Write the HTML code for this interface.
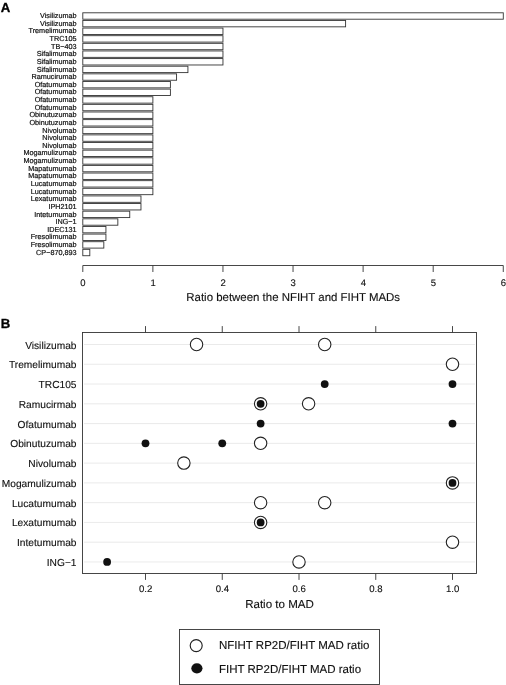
<!DOCTYPE html><html><head><meta charset="utf-8"><title>Figure</title>
<style>html,body{margin:0;padding:0;background:#fff}svg{display:block;will-change:transform}text{font-family:"Liberation Sans",Arial,sans-serif;fill:#111;stroke:#111;stroke-width:0.12px;text-rendering:geometricPrecision}.s text{stroke-width:0.2px}text.b{fill:#000;stroke:#000;stroke-width:0.3px}</style></head><body>
<svg width="506" height="685" viewBox="0 0 506 685">
<rect width="506" height="685" fill="#fff"/>
<text x="0.8" y="12.2" font-size="13.2" font-weight="bold" class="b">A</text>
<g font-size="7.25" text-anchor="end" class="s">
<text x="76.6" y="18.15">Visilizumab</text>
<text x="76.6" y="25.78">Visilizumab</text>
<text x="76.6" y="33.41">Tremelimumab</text>
<text x="76.6" y="41.04">TRC105</text>
<text x="76.6" y="48.67">TB−403</text>
<text x="76.6" y="56.30">Sifalimumab</text>
<text x="76.6" y="63.93">Sifalimumab</text>
<text x="76.6" y="71.56">Sifalimumab</text>
<text x="76.6" y="79.19">Ramucirumab</text>
<text x="76.6" y="86.82">Ofatumumab</text>
<text x="76.6" y="94.45">Ofatumumab</text>
<text x="76.6" y="102.08">Ofatumumab</text>
<text x="76.6" y="109.71">Ofatumumab</text>
<text x="76.6" y="117.34">Obinutuzumab</text>
<text x="76.6" y="124.97">Obinutuzumab</text>
<text x="76.6" y="132.60">Nivolumab</text>
<text x="76.6" y="140.23">Nivolumab</text>
<text x="76.6" y="147.86">Nivolumab</text>
<text x="76.6" y="155.49">Mogamulizumab</text>
<text x="76.6" y="163.12">Mogamulizumab</text>
<text x="76.6" y="170.75">Mapatumumab</text>
<text x="76.6" y="178.38">Mapatumumab</text>
<text x="76.6" y="186.01">Lucatumumab</text>
<text x="76.6" y="193.64">Lucatumumab</text>
<text x="76.6" y="201.27">Lexatumumab</text>
<text x="76.6" y="208.90">IPH2101</text>
<text x="76.6" y="216.53">Intetumumab</text>
<text x="76.6" y="224.16">ING−1</text>
<text x="76.6" y="231.79">IDEC131</text>
<text x="76.6" y="239.42">Fresolimumab</text>
<text x="76.6" y="247.05">Fresolimumab</text>
<text x="76.6" y="254.68">CP−870,893</text>
</g>
<g fill="#fff" stroke="#333" stroke-width="0.9">
<rect x="82.8" y="12.80" width="420.48" height="6.4"/>
<rect x="82.8" y="20.43" width="262.80" height="6.4"/>
<rect x="82.8" y="28.06" width="140.16" height="6.4"/>
<rect x="82.8" y="35.69" width="140.16" height="6.4"/>
<rect x="82.8" y="43.32" width="140.16" height="6.4"/>
<rect x="82.8" y="50.95" width="140.16" height="6.4"/>
<rect x="82.8" y="58.58" width="140.16" height="6.4"/>
<rect x="82.8" y="66.21" width="105.12" height="6.4"/>
<rect x="82.8" y="73.84" width="93.77" height="6.4"/>
<rect x="82.8" y="81.47" width="87.60" height="6.4"/>
<rect x="82.8" y="89.10" width="87.60" height="6.4"/>
<rect x="82.8" y="96.73" width="70.08" height="6.4"/>
<rect x="82.8" y="104.36" width="70.08" height="6.4"/>
<rect x="82.8" y="111.99" width="70.08" height="6.4"/>
<rect x="82.8" y="119.62" width="70.08" height="6.4"/>
<rect x="82.8" y="127.25" width="70.08" height="6.4"/>
<rect x="82.8" y="134.88" width="70.08" height="6.4"/>
<rect x="82.8" y="142.51" width="70.08" height="6.4"/>
<rect x="82.8" y="150.14" width="70.08" height="6.4"/>
<rect x="82.8" y="157.77" width="70.08" height="6.4"/>
<rect x="82.8" y="165.40" width="70.08" height="6.4"/>
<rect x="82.8" y="173.03" width="70.08" height="6.4"/>
<rect x="82.8" y="180.66" width="70.08" height="6.4"/>
<rect x="82.8" y="188.29" width="70.08" height="6.4"/>
<rect x="82.8" y="195.92" width="58.17" height="6.4"/>
<rect x="82.8" y="203.55" width="58.17" height="6.4"/>
<rect x="82.8" y="211.18" width="46.95" height="6.4"/>
<rect x="82.8" y="218.81" width="35.04" height="6.4"/>
<rect x="82.8" y="226.44" width="23.13" height="6.4"/>
<rect x="82.8" y="234.07" width="23.13" height="6.4"/>
<rect x="82.8" y="241.70" width="21.02" height="6.4"/>
<rect x="82.8" y="249.33" width="7.01" height="6.4"/>
</g>
<g stroke="#333" stroke-width="0.9" fill="none"><path d="M82.8 265.5H503.28000000000003
M82.80 265.5v6.5
M152.88 265.5v6.5
M222.96 265.5v6.5
M293.04 265.5v6.5
M363.12 265.5v6.5
M433.20 265.5v6.5
M503.28 265.5v6.5
"/></g>
<g font-size="9.5" text-anchor="middle">
<text x="83.00" y="285.5">0</text>
<text x="153.08" y="285.5">1</text>
<text x="223.16" y="285.5">2</text>
<text x="293.24" y="285.5">3</text>
<text x="363.32" y="285.5">4</text>
<text x="433.40" y="285.5">5</text>
<text x="503.48" y="285.5">6</text>
</g>
<text x="293.2" y="300.8" font-size="11.44" text-anchor="middle">Ratio between the NFIHT and FIHT MADs</text>
<text x="0.8" y="328.1" font-size="13.2" font-weight="bold" class="b">B</text>
<g stroke="#e4e4e4" stroke-width="0.8">
<line x1="84.0" x2="475.0" y1="344.50" y2="344.50"/>
<line x1="84.0" x2="475.0" y1="364.27" y2="364.27"/>
<line x1="84.0" x2="475.0" y1="384.04" y2="384.04"/>
<line x1="84.0" x2="475.0" y1="403.81" y2="403.81"/>
<line x1="84.0" x2="475.0" y1="423.58" y2="423.58"/>
<line x1="84.0" x2="475.0" y1="443.35" y2="443.35"/>
<line x1="84.0" x2="475.0" y1="463.12" y2="463.12"/>
<line x1="84.0" x2="475.0" y1="482.89" y2="482.89"/>
<line x1="84.0" x2="475.0" y1="502.66" y2="502.66"/>
<line x1="84.0" x2="475.0" y1="522.43" y2="522.43"/>
<line x1="84.0" x2="475.0" y1="542.20" y2="542.20"/>
<line x1="84.0" x2="475.0" y1="561.97" y2="561.97"/>
</g>
<g font-size="10.2" text-anchor="end">
<text x="76.5" y="348.50">Visilizumab</text>
<text x="76.5" y="368.27">Tremelimumab</text>
<text x="76.5" y="388.04">TRC105</text>
<text x="76.5" y="407.81">Ramucirmab</text>
<text x="76.5" y="427.58">Ofatumumab</text>
<text x="76.5" y="447.35">Obinutuzumab</text>
<text x="76.5" y="467.12">Nivolumab</text>
<text x="76.5" y="486.89">Mogamulizumab</text>
<text x="76.5" y="506.66">Lucatumumab</text>
<text x="76.5" y="526.43">Lexatumumab</text>
<text x="76.5" y="546.20">Intetumumab</text>
<text x="76.5" y="565.97">ING−1</text>
</g>
<rect x="82.5" y="332.5" width="394.0" height="241.0" fill="none" stroke="#333" stroke-width="0.9"/>
<path d="M145.50 332.5v-6.4M145.50 573.5v6.4M222.25 332.5v-6.4M222.25 573.5v6.4M299.00 332.5v-6.4M299.00 573.5v6.4M375.75 332.5v-6.4M375.75 573.5v6.4M452.50 332.5v-6.4M452.50 573.5v6.4" stroke="#333" stroke-width="0.9" fill="none"/>
<g font-size="9.6" text-anchor="middle">
<text x="145.60" y="592.2">0.2</text>
<text x="222.35" y="592.2">0.4</text>
<text x="299.10" y="592.2">0.6</text>
<text x="375.85" y="592.2">0.8</text>
<text x="452.60" y="592.2">1.0</text>
</g>
<text x="279.5" y="608" font-size="11.55" text-anchor="middle">Ratio to MAD</text>
<g fill="#fff" stroke="#222" stroke-width="1.1">
<circle cx="196.54" cy="344.50" r="6.2"/>
<circle cx="324.71" cy="344.50" r="6.2"/>
<circle cx="452.50" cy="364.27" r="6.2"/>
<circle cx="260.62" cy="403.81" r="6.2"/>
<circle cx="308.59" cy="403.81" r="6.2"/>
<circle cx="260.62" cy="443.35" r="6.2"/>
<circle cx="183.88" cy="463.12" r="6.2"/>
<circle cx="452.50" cy="482.89" r="6.2"/>
<circle cx="260.62" cy="502.66" r="6.2"/>
<circle cx="324.71" cy="502.66" r="6.2"/>
<circle cx="260.62" cy="522.43" r="6.2"/>
<circle cx="452.50" cy="542.20" r="6.2"/>
<circle cx="299.00" cy="561.97" r="6.2"/>
</g>
<g fill="#111">
<circle cx="324.71" cy="384.04" r="3.9"/>
<circle cx="452.50" cy="384.04" r="3.9"/>
<circle cx="260.62" cy="403.81" r="3.9"/>
<circle cx="260.62" cy="423.58" r="3.9"/>
<circle cx="452.50" cy="423.58" r="3.9"/>
<circle cx="145.50" cy="443.35" r="3.9"/>
<circle cx="222.25" cy="443.35" r="3.9"/>
<circle cx="452.50" cy="482.89" r="3.9"/>
<circle cx="260.62" cy="522.43" r="3.9"/>
<circle cx="107.12" cy="561.97" r="3.9"/>
</g>
<rect x="179.5" y="629.5" width="200" height="55" fill="#fff" stroke="#333" stroke-width="0.9"/>
<circle cx="196.2" cy="645.6" r="6.0" fill="#fff" stroke="#222" stroke-width="1.15"/>
<ellipse cx="196.9" cy="668.3" rx="5.6" ry="5.1" fill="#111"/>
<text x="219" y="649.4" font-size="11.5">NFIHT RP2D/FIHT MAD ratio</text>
<text x="219" y="672.6" font-size="11.5">FIHT RP2D/FIHT MAD ratio</text>
</svg></body></html>
